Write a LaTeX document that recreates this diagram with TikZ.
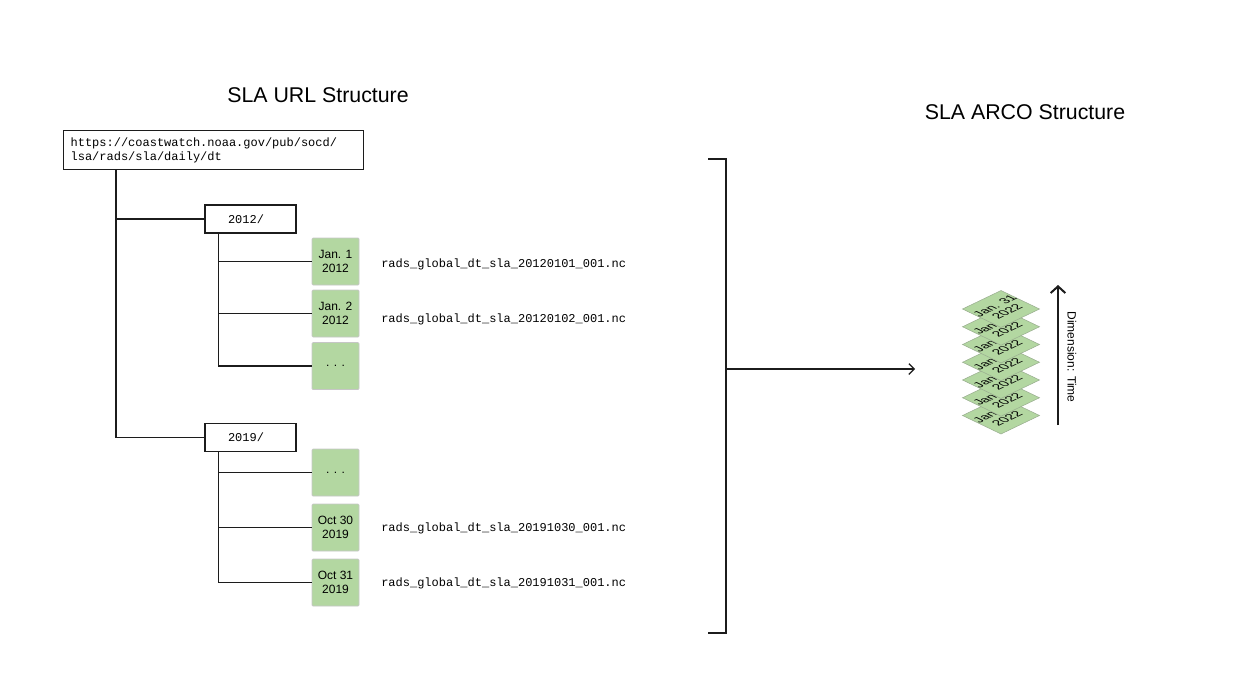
\documentclass[tikz,border=0pt]{standalone}
\usepackage{fontspec}
\setmainfont{Liberation Sans}
\setmonofont{Liberation Mono}
\usetikzlibrary{arrows.meta}
\definecolor{figgreen}{HTML}{B3D7A1}
\definecolor{figedge}{HTML}{C6C6C6}
\definecolor{figtileedge}{HTML}{9AAE90}
\definecolor{figline}{HTML}{1C1C1C}
\tikzset{
  treeline/.style={figline,line width=0.9pt},
  urlbox/.style={draw=figline,line width=0.9pt,anchor=north west,font=\ttfamily\fontsize{9}{10.5}\selectfont,text width=214.5pt,inner xsep=5.25pt,align=left,minimum height=29.25pt},
  dirbox/.style={draw=figline,line width=0.9pt,font=\ttfamily\fontsize{9}{10.5}\selectfont,text width=33.75pt,inner xsep=17.25pt,align=left,minimum height=21pt},
  datebox/.style={draw=figedge,fill=figgreen,line width=0.6pt,rounded corners=0.8pt,minimum size=35.25pt,inner sep=0pt,align=center,font=\fontsize{9}{10.2}\selectfont},
  fname/.style={anchor=west,inner sep=0pt,font=\ttfamily\fontsize{9}{10.5}\selectfont},
  layer/.style={draw=figtileedge,fill=figgreen,line width=0.4pt,minimum size=40.8pt,inner sep=0pt,align=center,font=\fontsize{12}{13}\selectfont,transform shape},
}
\begin{document}
\begin{tikzpicture}[x=0.75pt,y=-0.75pt]
\useasboundingbox (0,0) rectangle (1255,696);
\node[font=\fontsize{16}{19}\selectfont] (urltitle) at (318,95) {SLA URL Structure};
\node[font=\fontsize{16}{19}\selectfont] (arcotitle) at (1025,112) {SLA ARCO Structure};
\node[urlbox] (url) at (63,130) {https://coastwatch.noaa.gov/pub/socd/\\lsa/rads/sla/daily/dt};
\node[dirbox] (y2012) at (250.5,219) {2012/};
\node[dirbox] (y2019) at (250.5,437.5) {2019/};
\node[datebox] (d1) at (335.5,261.5) {Jan. 1\\2012};
\node[datebox] (d2) at (335.5,313.5) {Jan. 2\\2012};
\node[datebox] (d3) at (335.5,366) {. . .};
\node[datebox] (e1) at (335.5,472.5) {. . .};
\node[datebox] (e2) at (335.5,527.5) {Oct 30\\2019};
\node[datebox] (e3) at (335.5,582.5) {Oct 31\\2019};
\node[fname] (f1) at (381,264) {rads\_global\_dt\_sla\_20120101\_001.nc};
\node[fname] (f2) at (381,319) {rads\_global\_dt\_sla\_20120102\_001.nc};
\node[fname] (f3) at (381,528) {rads\_global\_dt\_sla\_20191030\_001.nc};
\node[fname] (f4) at (381,583) {rads\_global\_dt\_sla\_20191031\_001.nc};
\draw[treeline] (url.south west) ++(53,0) |- (y2012.west);
\draw[treeline] (url.south west) ++(53,0) |- (y2019.west);
\foreach \b in {d1,d2,d3} \draw[treeline] (y2012.south west) ++(14,0) |- (\b.west);
\foreach \b in {e1,e2,e3} \draw[treeline] (y2019.south west) ++(14,0) |- (\b.west);
\draw[treeline] (708,159) -- (726,159) -- (726,633) -- (708,633);
\coordinate (brk) at (726,369);
\coordinate (stackin) at (915,369);
\draw[treeline,-{Straight Barb[length=4pt,width=8pt]}] (brk) -- (stackin);
\foreach \i in {0,...,5}{
  \begin{scope}[shift={(1001,415.5-17.75*\i)},yscale=0.48,rotate=45]
    \node[layer] (t\i) at (0,0) {Jan\phantom{. 31}\\2022};
  \end{scope}
}
\begin{scope}[shift={(1001,309)},yscale=0.48,rotate=45]
  \node[layer] (t6) at (0,0) {Jan. 31\\2022};
\end{scope}
\coordinate (tbot) at (1058,425);
\coordinate (ttop) at (1058,285);
\draw[figline,line width=1.5pt,-{Straight Barb[length=5pt,width=11pt]}] (tbot) -- (ttop);
\node[rotate=-90,font=\fontsize{9}{10}\selectfont] (dimlabel) at (1072,357) {Dimension: Time};
\end{tikzpicture}
\end{document}
